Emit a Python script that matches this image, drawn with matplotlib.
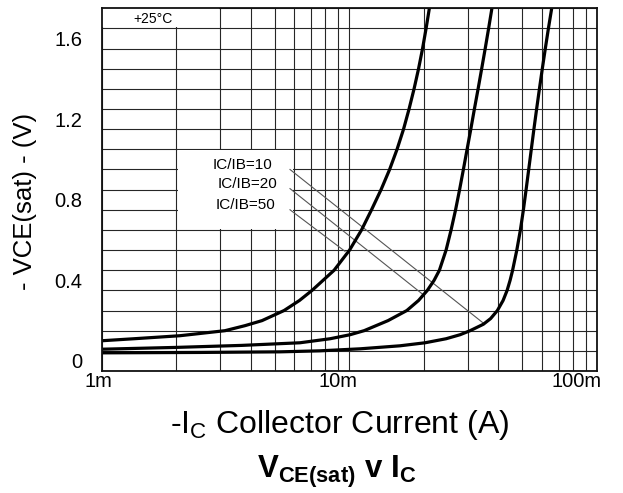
import matplotlib
matplotlib.use("Agg")
import matplotlib.pyplot as plt
from matplotlib.ticker import LogLocator, MultipleLocator, NullFormatter
from matplotlib.patches import Rectangle
from matplotlib.transforms import ScaledTranslation, blended_transform_factory

plt.rcParams['font.family'] = ['Liberation Sans', 'DejaVu Sans']
plt.rcParams['mathtext.fontset'] = 'custom'
plt.rcParams['mathtext.rm'] = 'Liberation Sans'
plt.rcParams['mathtext.bf'] = 'Liberation Sans:bold'
plt.rcParams['mathtext.default'] = 'regular'

# ---- data (collector current in A, VCE(sat) in V) ----
ic_50 = [1.000e-3, 1.35e-3, 2.07e-3, 3.147e-3, 3.792e-3, 4.441e-3, 5.45e-3, 6.29e-3,
         7.07e-3, 8.68e-3, 10.02e-3, 11.2e-3, 12.29e-3, 13.43e-3, 14.54e-3, 15.58e-3,
         16.55e-3, 17.42e-3, 18.25e-3, 19.03e-3, 19.75e-3, 20.41e-3, 21.04e-3]
v_50 = [0.150, 0.160, 0.175, 0.200, 0.225, 0.250, 0.300, 0.350,
        0.400, 0.500, 0.600, 0.700, 0.800, 0.900, 1.000, 1.100,
        1.200, 1.300, 1.400, 1.500, 1.600, 1.700, 1.800]

ic_20 = [1.000e-3, 1.995e-3, 3.677e-3, 6.32e-3, 8.36e-3, 10.07e-3, 11.47e-3, 14.33e-3,
         17.06e-3, 19.03e-3, 20.65e-3, 21.99e-3, 23.10e-3, 24.58e-3, 25.75e-3, 26.85e-3,
         27.87e-3, 28.87e-3, 29.88e-3, 30.93e-3, 31.98e-3, 33.10e-3, 34.22e-3, 35.36e-3,
         36.50e-3, 37.64e-3]
v_20 = [0.108, 0.117, 0.127, 0.140, 0.160, 0.180, 0.200, 0.250,
        0.300, 0.350, 0.400, 0.450, 0.500, 0.600, 0.700, 0.800,
        0.900, 1.000, 1.100, 1.200, 1.300, 1.400, 1.500, 1.600,
        1.700, 1.800]

ic_10 = [1.000e-3, 2.495e-3, 5.25e-3, 7.61e-3, 11.05e-3, 16.02e-3, 20.22e-3, 24.58e-3,
         28.00e-3, 30.73e-3, 34.77e-3, 37.18e-3, 39.60e-3, 41.76e-3, 43.35e-3, 44.57e-3,
         45.62e-3, 47.44e-3, 49.05e-3, 50.44e-3, 51.72e-3, 52.99e-3, 54.28e-3, 55.61e-3,
         57.03e-3, 58.54e-3, 60.13e-3, 61.83e-3, 63.64e-3, 65.62e-3]
v_10 = [0.090, 0.092, 0.095, 0.100, 0.110, 0.125, 0.140, 0.160,
        0.180, 0.200, 0.232, 0.260, 0.300, 0.350, 0.400, 0.450,
        0.500, 0.600, 0.700, 0.800, 0.900, 1.000, 1.100, 1.200,
        1.300, 1.400, 1.500, 1.600, 1.700, 1.800]

labels = ["IC/IB=10", "IC/IB=20", "IC/IB=50"]
label_x = [3.70e-3, 3.87e-3, 3.82e-3]
label_y = [1.021, 0.930, 0.826]
# leader lines: start (I, V) -> end (I, V)
lead_x0 = [5.76e-3, 5.76e-3, 5.76e-3]
lead_y0 = [1.000, 0.905, 0.800]
lead_x1 = [34.8e-3, 19.9e-3, 9.6e-3]
lead_y1 = [0.237, 0.378, 0.594]

xtick_vals = [1e-3, 1e-2, 1e-1]
xtick_labels = ["1m", "10m", "100m"]
ytick_vals = [0, 0.4, 0.8, 1.2, 1.6]
ytick_labels = ["0", "0.4", "0.8", "1.2", "1.6"]

# ---- figure ----
fig = plt.figure(figsize=(6.23, 4.93), dpi=100)
ax = fig.add_axes([0.1632, 0.2475, 0.7951, 0.7357])
ax.set_xscale('log')
ax.set_xlim(1e-3, 1e-1)
ax.set_ylim(0, 1.8)
ax.xaxis.set_major_locator(LogLocator(base=10))
ax.xaxis.set_minor_locator(LogLocator(base=10, subs=range(2, 10)))
ax.xaxis.set_minor_formatter(NullFormatter())
ax.yaxis.set_major_locator(MultipleLocator(0.1))
ax.set_axisbelow(True)
ax.grid(which='both', color='#262626', lw=0.8)
ax.tick_params(which='both', length=0, labelbottom=False, labelleft=False)
for s in ax.spines.values():
    s.set_linewidth(1.3)
    s.set_color('#111111')
    s.set_zorder(5)

# blank boxes behind the annotations
ax.add_patch(Rectangle((2e-3 * 1.012, 0.705), 6e-3 / 1.012 - 2e-3 * 1.012, 0.39,
                       fc='white', ec='none', zorder=1.5))
ax.add_patch(Rectangle((1e-3, 1.705), 3e-3 / 1.012 - 1e-3, 0.1,
                       fc='white', ec='none', zorder=1.5))

# curves
for xs, ys in [(ic_50, v_50), (ic_20, v_20), (ic_10, v_10)]:
    ax.plot(xs, ys, color='black', lw=2.3, solid_joinstyle='round',
            solid_capstyle='round', zorder=3)

# leader lines and labels
for i in range(3):
    ax.plot([lead_x0[i], lead_x1[i]], [lead_y0[i], lead_y1[i]],
            color='#555555', lw=0.8, zorder=2.5)
    ax.text(label_x[i], label_y[i], labels[i], ha='center', va='center',
            fontsize=11, zorder=4)

ax.text(1.61e-3, 1.748, "+25°C", ha='center', va='center', fontsize=10, zorder=4)

# tick labels
xoffs = [-3, -11, -20]
bx = blended_transform_factory(ax.transData, ax.transAxes)
for v, t, o in zip(xtick_vals, xtick_labels, xoffs):
    tr = bx + ScaledTranslation(o / 100, -11 / 100, fig.dpi_scale_trans)
    ax.text(v, 0, t, transform=tr, ha='center', va='center', fontsize=14.5,
            clip_on=False)
by = blended_transform_factory(ax.transAxes, ax.transData)
for v, t in zip(ytick_vals, ytick_labels):
    tr = by + ScaledTranslation(-19 / 100, 8 / 100, fig.dpi_scale_trans)
    ax.text(0, v, t, transform=tr, ha='right', va='center', fontsize=14.5,
            clip_on=False)

# axis titles
fig.text(25 / 623, 1 - 201 / 493, "- VCE(sat) - (V)", rotation=90,
         ha='center', va='center', fontsize=18.5)
fig.text(340 / 623, 1 - 433 / 493, r"-I$_{C}$ Collector Current (A)",
         ha='center', va='baseline', fontsize=23)
fig.text(337 / 623, 1 - 478 / 493, r"V$_{\mathbf{CE(sat)}}$ v I$_{\mathbf{C}}$",
         ha='center', va='baseline', fontsize=22.5, fontweight='bold')

fig.savefig("out.png", dpi=100)
